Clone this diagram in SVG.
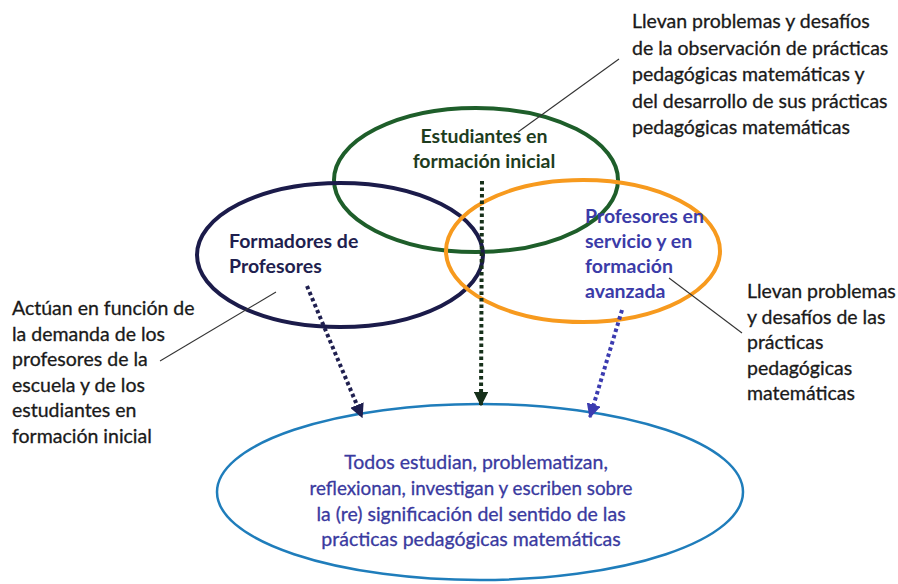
<svg xmlns="http://www.w3.org/2000/svg" width="898" height="584" viewBox="0 0 898 584">
  <style>
    text { font-family: Lato, "Open Sans", "Liberation Sans", sans-serif; font-size: 19.5px; }
    .note { fill: #1a1a1a; stroke: #1a1a1a; stroke-width: 0.3; }
    .bold { font-weight: bold; }
    .ring { fill: none; }
    .leader { stroke: #333333; stroke-width: 1.1; fill: none; }
    .flow { fill: none; stroke-width: 4; stroke-dasharray: 3.5 3; }
  </style>
  <defs>
    <marker id="headNavy" viewBox="0 0 10 10" refX="9" refY="5" markerWidth="3.6" markerHeight="3.6" orient="auto" markerUnits="strokeWidth">
      <path d="M0,0 L10,5 L0,10 Z" fill="#1f1f4f"/>
    </marker>
    <marker id="headGreen" viewBox="0 0 10 10" refX="9" refY="5" markerWidth="3.6" markerHeight="3.6" orient="auto" markerUnits="strokeWidth">
      <path d="M0,0 L10,5 L0,10 Z" fill="#16301a"/>
    </marker>
    <marker id="headBlue" viewBox="0 0 10 10" refX="9" refY="5" markerWidth="3.6" markerHeight="3.6" orient="auto" markerUnits="strokeWidth">
      <path d="M0,0 L10,5 L0,10 Z" fill="#3b3bb0"/>
    </marker>
  </defs>

  <rect width="898" height="584" fill="#ffffff"/>

  <!-- result ellipse -->
  <g id="node-todos">
    <ellipse class="ring" cx="480" cy="492" rx="263" ry="88" stroke="#1f7dbb" stroke-width="2.5"/>
    <g fill="#3a3aa0" stroke="#3a3aa0" stroke-width="0.3" text-anchor="middle">
      <text x="476" y="469">Todos estudian, problematizan,</text>
      <text x="471" y="495" textLength="323" lengthAdjust="spacingAndGlyphs">reflexionan, investigan y escriben sobre</text>
      <text x="471" y="520.5">la (re) significación del sentido de las</text>
      <text x="471" y="546">prácticas pedagógicas matemáticas</text>
    </g>
  </g>

  <!-- student teachers -->
  <g id="node-estudiantes">
    <ellipse class="ring" cx="476" cy="180" rx="142" ry="72" stroke="#1e5e2a" stroke-width="4"/>
    <g class="bold" fill="#1e3d1e" text-anchor="middle">
      <text x="484" y="143">Estudiantes en</text>
      <text x="484" y="168">formación inicial</text>
    </g>
  </g>

  <!-- teacher educators -->
  <g id="node-formadores">
    <ellipse class="ring" cx="340" cy="255" rx="143" ry="72" stroke="#1b1b4a" stroke-width="4"/>
    <g class="bold" fill="#1f1f4f">
      <text x="229" y="248">Formadores de</text>
      <text x="229" y="273">Profesores</text>
    </g>
  </g>

  <!-- in-service teachers -->
  <g id="node-profesores">
    <ellipse class="ring" cx="583" cy="251" rx="137" ry="71" stroke="#f79a1e" stroke-width="4"/>
    <g class="bold" fill="#3b3ba8">
      <text x="585" y="223">Profesores en</text>
      <text x="585" y="248">servicio y en</text>
      <text x="585" y="272.5">formación</text>
      <text x="585" y="298">avanzada</text>
    </g>
  </g>

  <!-- annotations -->
  <g id="note-estudiantes" class="note">
    <text x="632" y="28">Llevan problemas y desafíos</text>
    <text x="632" y="54.5">de la observación de prácticas</text>
    <text x="632" y="81">pedagógicas matemáticas y</text>
    <text x="632" y="107.5">del desarrollo de sus prácticas</text>
    <text x="632" y="134">pedagógicas matemáticas</text>
  </g>
  <g id="note-formadores" class="note">
    <text x="12" y="315">Actúan en función de</text>
    <text x="12" y="340.5">la demanda de los</text>
    <text x="12" y="366">profesores de la</text>
    <text x="12" y="391.5">escuela y de los</text>
    <text x="12" y="417">estudiantes en</text>
    <text x="12" y="442.5">formación inicial</text>
  </g>
  <g id="note-profesores" class="note">
    <text x="747" y="298">Llevan problemas</text>
    <text x="747" y="323.5">y desafíos de las</text>
    <text x="747" y="349">prácticas</text>
    <text x="747" y="374.5">pedagógicas</text>
    <text x="747" y="400">matemáticas</text>
  </g>

  <!-- connectors -->
  <g id="connectors">
    <line class="leader" x1="619" y1="59" x2="518" y2="132"/>
    <line class="leader" x1="160" y1="361" x2="276" y2="292"/>
    <line class="leader" x1="669" y1="278" x2="742" y2="333"/>
    <line class="flow" x1="307" y1="286" x2="362" y2="417" stroke="#1f1f4f" marker-end="url(#headNavy)"/>
    <line class="flow" x1="482" y1="181" x2="481" y2="405" stroke="#16301a" marker-end="url(#headGreen)"/>
    <line class="flow" x1="622" y1="310" x2="590" y2="417" stroke="#3b3bb0" marker-end="url(#headBlue)"/>
  </g>
</svg>
